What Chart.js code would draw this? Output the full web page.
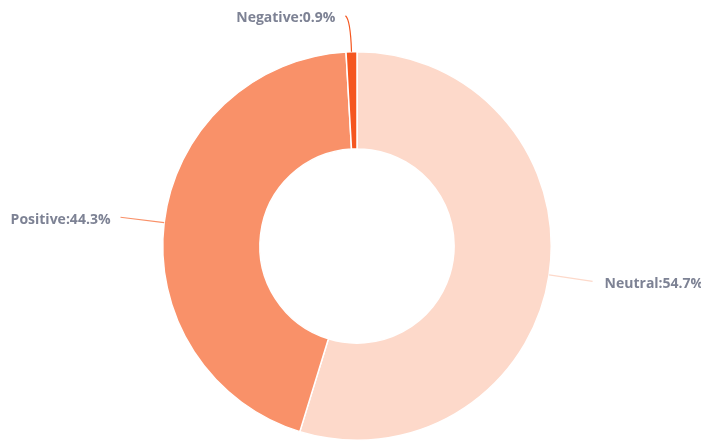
<!DOCTYPE html>
<html>
<head>
<meta charset="utf-8">
<script src="https://cdn.jsdelivr.net/npm/chart.js@4/dist/chart.umd.min.js"></script>
<style>
  html, body { margin: 0; padding: 0; background: #fff; }
  #wrap { width: 701px; height: 441px; }
</style>
</head>
<body>
<div id="wrap"><canvas id="sentiment"></canvas></div>
<script>
const sentimentLabels = ["Neutral", "Positive", "Negative"];
const sentimentShare = [54.7, 44.3, 0.9];
const sentimentColors = ["#fdd9ca", "#f99169", "#f5561f"];

// leader lines + "Label:xx%" text outside each slice
const outsideLabels = {
  id: "outsideLabels",
  afterDatasetsDraw(chart) {
    const ctx = chart.ctx;
    const meta = chart.getDatasetMeta(0);
    ctx.save();
    ctx.font = "bold 14px 'Open Sans', Lato, sans-serif";
    ctx.fillStyle = "#7d8294";
    ctx.textBaseline = "middle";
    meta.data.forEach((arc, i) => {
      const mid = (arc.startAngle + arc.endAngle) / 2;
      const cos = Math.cos(mid), sin = Math.sin(mid);
      const r = arc.outerRadius;
      const sx = arc.x + cos * r, sy = arc.y + sin * r;
      const len = Math.abs(cos) < 0.2 ? 36 : 44;
      const ex = arc.x + cos * (r + len), ey = arc.y + sin * (r + len);
      ctx.strokeStyle = sentimentColors[i];
      ctx.lineWidth = 1.2;
      ctx.beginPath();
      ctx.moveTo(sx, sy);
      let tx, ty = ey;
      if (Math.abs(cos) < 0.2) {
        // near the top: bend the line over to the left
        ctx.quadraticCurveTo(ex, ey + 4, ex - 5, ey);
        tx = ex - 15;
        ty = ey + 2;
        ctx.textAlign = "right";
      } else if (cos > 0) {
        ctx.lineTo(ex, ey);
        tx = ex + 12;
        ty = ey + 3;
        ctx.textAlign = "left";
      } else {
        ctx.lineTo(ex, ey);
        tx = ex - 10;
        ty = ey + 3;
        ctx.textAlign = "right";
      }
      ctx.stroke();
      ctx.fillText(sentimentLabels[i] + ":" + sentimentShare[i] + "%", tx, ty);
    });
    ctx.restore();
  },
};

new Chart(document.getElementById("sentiment").getContext("2d"), {
  type: "doughnut",
  data: {
    labels: sentimentLabels,
    datasets: [
      {
        data: sentimentShare,
        backgroundColor: sentimentColors,
        borderColor: "#ffffff",
        borderWidth: 1.5,
      },
    ],
  },
  options: {
    responsive: true,
    maintainAspectRatio: false,
    animation: false,
    cutout: "50%",
    layout: { padding: { top: 51, bottom: 0, left: 13, right: 0 } },
    plugins: {
      legend: { display: false },
      tooltip: { enabled: false },
    },
  },
  plugins: [outsideLabels],
});
</script>
</body>
</html>
